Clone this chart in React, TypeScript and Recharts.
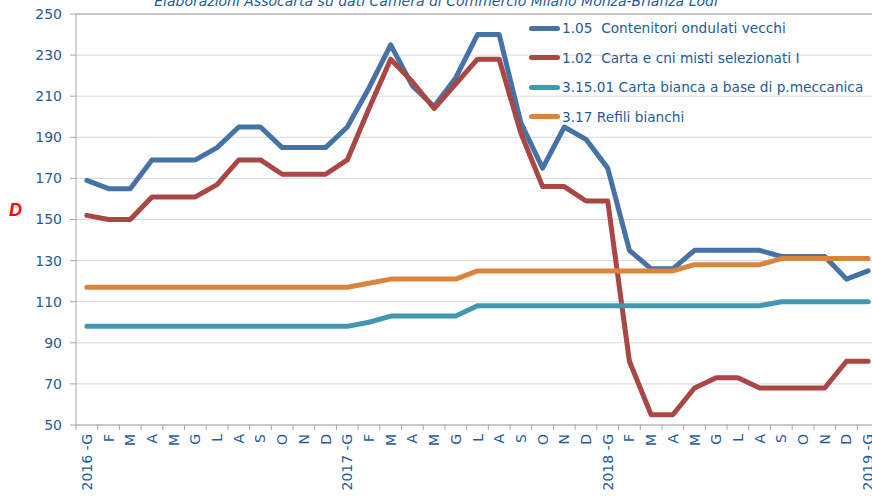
import React from 'react';
import { LineChart, Line, XAxis, YAxis, CartesianGrid, Legend, ReferenceLine } from 'recharts';

const categories = [
  '2016 -G', 'F', 'M', 'A', 'M', 'G', 'L', 'A', 'S', 'O', 'N', 'D',
  '2017 -G', 'F', 'M', 'A', 'M', 'G', 'L', 'A', 'S', 'O', 'N', 'D',
  '2018 -G', 'F', 'M', 'A', 'M', 'G', 'L', 'A', 'S', 'O', 'N', 'D',
  '2019 -G',
];

const contenitori = [
  169, 165, 165, 179, 179, 179, 185, 195, 195, 185, 185, 185,
  195, 214, 235, 215, 205, 219, 240, 240, 197, 175, 195, 189,
  175, 135, 126, 126, 135, 135, 135, 135, 132, 132, 132, 121,
  125,
];

const cartaMisti = [
  152, 150, 150, 161, 161, 161, 167, 179, 179, 172, 172, 172,
  179, 204, 228, 217, 204, 216, 228, 228, 192, 166, 166, 159,
  159, 81, 55, 55, 68, 73, 73, 68, 68, 68, 68, 81,
  81,
];

const cartaBianca = [
  98, 98, 98, 98, 98, 98, 98, 98, 98, 98, 98, 98,
  98, 100, 103, 103, 103, 103, 108, 108, 108, 108, 108, 108,
  108, 108, 108, 108, 108, 108, 108, 108, 110, 110, 110, 110,
  110,
];

const refili = [
  117, 117, 117, 117, 117, 117, 117, 117, 117, 117, 117, 117,
  117, 119, 121, 121, 121, 121, 125, 125, 125, 125, 125, 125,
  125, 125, 125, 125, 128, 128, 128, 128, 131, 131, 131, 131,
  131,
];

const seriesNames = [
  '1.05  Contenitori ondulati vecchi',
  '1.02  Carta e cni misti selezionati I',
  '3.15.01 Carta bianca a base di p.meccanica',
  '3.17 Refili bianchi',
];

const seriesColors = ['#4572A7', '#AA4643', '#4198AF', '#DB843D'];

const yTicks = [50, 70, 90, 110, 130, 150, 170, 190, 210, 230, 250];

const titleText = 'Elaborazioni Assocarta su dati Camera di Commercio Milano Monza-Brianza Lodi';
const sideLabel = 'D';

const data = categories.map((cat, i) => ({
  cat,
  a: contenitori[i],
  b: cartaMisti[i],
  c: cartaBianca[i],
  d: refili[i],
}));

const TEXT = '#1F5C9B';
const FONT = '"DejaVu Sans", Verdana, sans-serif';
const AXIS_GRAY = '#A6A6A6';

const CHART_W = 900;
const CHART_H = 497;
const Y_AXIS_W = 76;
const MARGIN = { top: 14, right: 21, bottom: 0, left: 0 };
const X_AXIS_H = 72;
const STEP = (CHART_W - MARGIN.left - MARGIN.right - Y_AXIS_W) / categories.length;

const XTick = (props: any) => {
  const { x, y, payload } = props;
  return (
    <g>
      <line x1={x - STEP / 2} y1={y} x2={x - STEP / 2} y2={y + 5} stroke={AXIS_GRAY} />
      <text
        x={0}
        y={0}
        transform={`translate(${x + 5},${y + 9}) rotate(-90)`}
        textAnchor="end"
        fill={TEXT}
        fontSize={14}
        fontFamily={FONT}
        style={{ whiteSpace: 'pre' }}
      >
        {payload.value}
      </text>
    </g>
  );
};

const LegendContent = (props: any) => {
  const payload = [...(props.payload || [])].sort(
    (p: any, q: any) => seriesNames.indexOf(p.value) - seriesNames.indexOf(q.value)
  );
  return (
    <div style={{ fontFamily: FONT }}>
      {payload.map((entry: any) => (
        <div key={entry.value} style={{ display: 'flex', alignItems: 'center', height: 29.5 }}>
          <div
            style={{
              width: 31,
              height: 5,
              borderRadius: 3,
              background: entry.color,
              marginRight: 2,
            }}
          />
          <span style={{ color: TEXT, fontSize: 13.7, whiteSpace: 'pre' }}>{entry.value}</span>
        </div>
      ))}
    </div>
  );
};

export default function App() {
  return (
    <div
      style={{
        position: 'absolute',
        left: 0,
        top: 0,
        width: 872,
        height: 497,
        overflow: 'hidden',
        background: '#ffffff',
      }}
    >
      <LineChart width={CHART_W} height={CHART_H} data={data} margin={MARGIN}>
        <CartesianGrid vertical={false} stroke="#D9D9D9" />
        <ReferenceLine y={250} stroke={AXIS_GRAY} />
        <XAxis
          dataKey="cat"
          interval={0}
          height={X_AXIS_H}
          padding={{ left: STEP / 2, right: STEP / 2 }}
          tickSize={0}
          tickMargin={0}
          tickLine={false}
          axisLine={{ stroke: AXIS_GRAY }}
          tick={<XTick />}
        />
        <YAxis
          width={Y_AXIS_W}
          domain={[50, 250]}
          ticks={yTicks}
          interval={0}
          tickSize={6}
          tickMargin={8}
          axisLine={{ stroke: AXIS_GRAY }}
          tickLine={{ stroke: AXIS_GRAY }}
          tick={{ fill: TEXT, fontSize: 14, fontFamily: FONT }}
        />
        <Legend
          layout="vertical"
          align="center"
          verticalAlign="middle"
          wrapperStyle={{ left: 529, top: 13.5, width: 345, height: 120 }}
          content={<LegendContent />}
        />
        <Line type="linear" dataKey="a" name={seriesNames[0]} stroke={seriesColors[0]} strokeWidth={5} dot={false} strokeLinecap="round" strokeLinejoin="round" isAnimationActive={false} />
        <Line type="linear" dataKey="b" name={seriesNames[1]} stroke={seriesColors[1]} strokeWidth={5} dot={false} strokeLinecap="round" strokeLinejoin="round" isAnimationActive={false} />
        <Line type="linear" dataKey="c" name={seriesNames[2]} stroke={seriesColors[2]} strokeWidth={5} dot={false} strokeLinecap="round" strokeLinejoin="round" isAnimationActive={false} />
        <Line type="linear" dataKey="d" name={seriesNames[3]} stroke={seriesColors[3]} strokeWidth={5} dot={false} strokeLinecap="round" strokeLinejoin="round" isAnimationActive={false} />
      </LineChart>
      <div
        style={{
          position: 'absolute',
          left: 0,
          top: -6,
          width: 872,
          textAlign: 'center',
          fontFamily: FONT,
          fontStyle: 'italic',
          fontSize: 14,
          lineHeight: '15px',
          color: TEXT,
          whiteSpace: 'nowrap',
        }}
      >
        {titleText}
      </div>
      <div
        style={{
          position: 'absolute',
          left: 9,
          top: 201,
          fontFamily: '"Liberation Sans", Arial, sans-serif',
          fontStyle: 'italic',
          fontWeight: 'bold',
          fontSize: 18,
          lineHeight: '18px',
          color: '#FF0000',
        }}
      >
        {sideLabel}
      </div>
    </div>
  );
}
